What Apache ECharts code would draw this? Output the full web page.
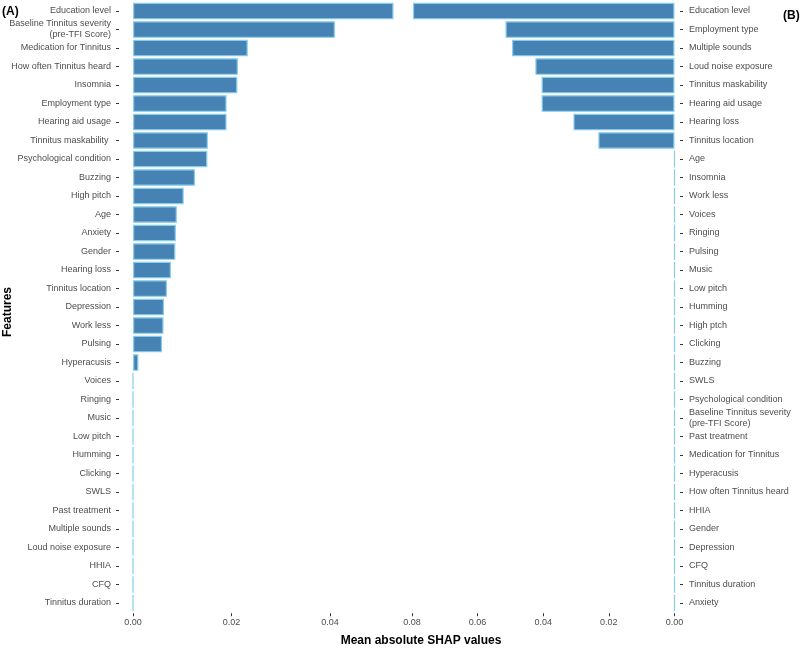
<!DOCTYPE html>
<html>
<head>
<meta charset="utf-8">
<script src="https://cdn.jsdelivr.net/npm/echarts@6/dist/echarts.min.js"></script>
<style>html,body{margin:0;padding:0;background:#fff;}#c{width:800px;height:651px;}</style>
</head>
<body>
<div id="c"></div>
<script>
var leftCategories = ["Education level","Baseline Tinnitus severity\n(pre-TFI Score)","Medication for Tinnitus","How often Tinnitus heard","Insomnia","Employment type","Hearing aid usage","Tinnitus maskability ","Psychological condition","Buzzing","High pitch","Age","Anxiety","Gender","Hearing loss","Tinnitus location","Depression","Work less","Pulsing","Hyperacusis","Voices","Ringing","Music","Low pitch","Humming","Clicking","SWLS","Past treatment","Multiple sounds","Loud noise exposure","HHIA","CFQ","Tinnitus duration"];
var leftValues = [0.0529,0.0410,0.0233,0.0213,0.0212,0.0190,0.0190,0.0152,0.0151,0.0126,0.0103,0.0089,0.0087,0.0086,0.0077,0.0069,0.0063,0.0062,0.0059,0.0011,0,0,0,0,0,0,0,0,0,0,0,0,0];
var rightCategories = ["Education level","Employment type","Multiple sounds","Loud noise exposure","Tinnitus maskability","Hearing aid usage","Hearing loss","Tinnitus location","Age","Insomnia","Work less","Voices","Ringing","Pulsing","Music","Low pitch","Humming","High ptch","Clicking","Buzzing","SWLS","Psychological condition","Baseline Tinnitus severity\n(pre-TFI Score)","Past treatment","Medication for Tinnitus","Hyperacusis","How often Tinnitus heard","HHIA","Gender","Depression","CFQ","Tinnitus duration","Anxiety"];
var rightValues = [0.0797,0.0515,0.0495,0.0424,0.0405,0.0405,0.0308,0.0232,0,0,0,0,0,0,0,0,0,0,0,0,0,0,0,0,0,0,0,0,0,0,0,0,0];
var xTickStep = 0.02;

var FONT = "Liberation Sans, Arial, sans-serif";
var chart = echarts.init(document.getElementById('c'), null, {renderer: 'canvas'});
function fmt(v){ return Math.abs(v/xTickStep - Math.round(v/xTickStep)) < 1e-6 ? v.toFixed(2) : ''; }
var barStyle = {color: '#4682B4', borderColor: '#87CEEB', borderWidth: 1.2};
var labelStyle = {fontSize: 9, color: '#4d4d4d', fontFamily: FONT, lineHeight: 11};
var tickStyle = {show: true, length: 3, alignWithLabel: true, lineStyle: {color: '#333'}};
var hiddenX = function(g){ return {type: 'value', gridIndex: g, show: false, min: 0, max: 1}; };
chart.setOption({
  animation: false,
  backgroundColor: '#fff',
  grid: [
    {left: 133, width: 262, top: 1.75, height: 610.5},
    {left: 409, width: 265.5, top: 1.75, height: 610.5},
    {left: 119, width: 1, top: 1.75, height: 610.5},
    {left: 680, width: 1, top: 1.75, height: 610.5}
  ],
  xAxis: [
    {type: 'value', gridIndex: 0, min: 0, max: 0.0532, interval: xTickStep, offset: 1,
     axisLine: {show: false}, axisTick: {show: true, length: 3, lineStyle: {color: '#333'}},
     splitLine: {show: false},
     axisLabel: Object.assign({formatter: fmt, margin: 4, showMaxLabel: false}, labelStyle)},
    {type: 'value', gridIndex: 1, min: 0, max: 0.0809, interval: xTickStep, inverse: true, offset: 1,
     axisLine: {show: false}, axisTick: {show: true, length: 3, lineStyle: {color: '#333'}},
     splitLine: {show: false},
     axisLabel: Object.assign({formatter: fmt, margin: 4, showMaxLabel: false}, labelStyle)},
    hiddenX(2), hiddenX(3)
  ],
  yAxis: [
    {type: 'category', gridIndex: 0, data: leftCategories, inverse: true,
     axisLine: {show: false}, axisTick: {show: false}, axisLabel: {show: false}},
    {type: 'category', gridIndex: 1, data: rightCategories, inverse: true, position: 'right',
     axisLine: {show: false}, axisTick: {show: false}, axisLabel: {show: false}},
    {type: 'category', gridIndex: 2, data: leftCategories, inverse: true, position: 'left',
     axisLine: {show: false}, axisTick: tickStyle,
     axisLabel: Object.assign({margin: 8, interval: 0, align: 'right'}, labelStyle)},
    {type: 'category', gridIndex: 3, data: rightCategories, inverse: true, position: 'right',
     axisLine: {show: false}, axisTick: tickStyle,
     axisLabel: Object.assign({margin: 8, interval: 0, align: 'left'}, labelStyle)}
  ],
  series: [
    {type: 'bar', xAxisIndex: 0, yAxisIndex: 0, data: leftValues, barWidth: '90%', itemStyle: barStyle},
    {type: 'bar', xAxisIndex: 1, yAxisIndex: 1, data: rightValues, barWidth: '90%', itemStyle: barStyle}
  ],
  graphic: [
    {type: 'text', left: 2, top: 6, style: {text: '(A)', font: 'bold 12px ' + FONT, fill: '#000'}},
    {type: 'text', left: 783, top: 10, style: {text: '(B)', font: 'bold 12px ' + FONT, fill: '#000'}},
    {type: 'text', x: 421, y: 641, style: {text: 'Mean absolute SHAP values', font: 'bold 12px ' + FONT, fill: '#000', align: 'center', verticalAlign: 'middle'}},
    {type: 'text', x: 8, y: 312, rotation: Math.PI/2, style: {text: 'Features', font: 'bold 12px ' + FONT, fill: '#000', align: 'center', verticalAlign: 'middle'}}
  ]
});
</script>
</body>
</html>
